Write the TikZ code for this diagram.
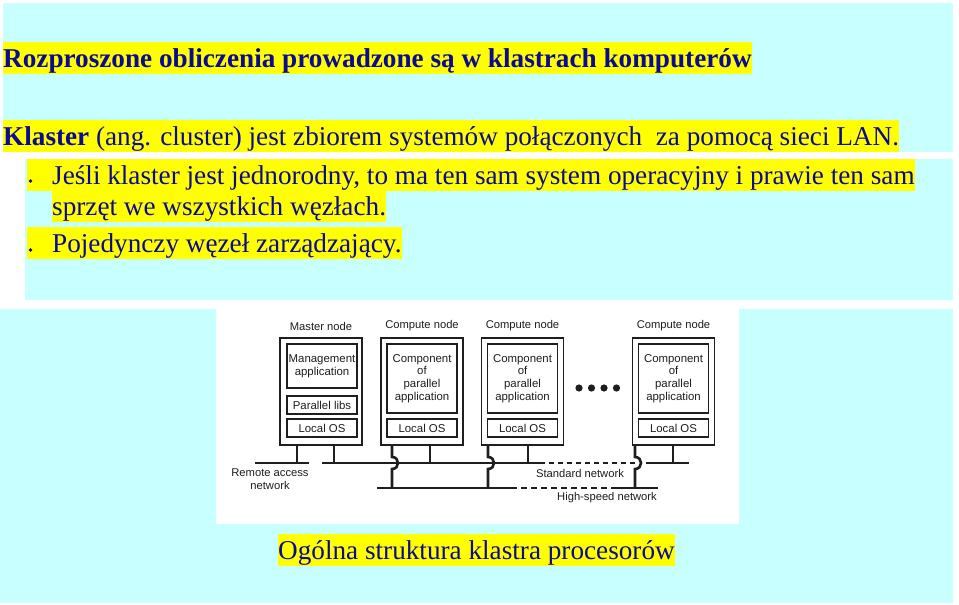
\documentclass[tikz,border=0pt]{standalone}
\usepackage{fontspec}
\setmainfont{Liberation Serif}
\newfontfamily\arialf{Liberation Sans}
\definecolor{cyanbg}{HTML}{C8FFFF}
\definecolor{navyt}{HTML}{0A0A96}
\definecolor{hl}{HTML}{FFFF00}
\definecolor{ink}{HTML}{1E1E1E}
\tikzset{
  hltext/.style={fill=hl, text=navyt, inner sep=0pt, anchor=base west,
    font=\fontsize{27.2}{32}\selectfont, text height=25pt, text depth=7pt},
  outerbox/.style={draw=ink, line width=1.8pt, minimum width=82pt, minimum height=107pt, inner sep=0pt},
  innerbox/.style={draw=ink, line width=1.1pt, minimum width=70pt, inner sep=0pt, align=center,
    font=\arialf\fontsize{11.4}{12.7}\selectfont, text=ink},
  dlabel/.style={font=\arialf\fontsize{11.2}{12.7}\selectfont, text=ink, align=center, inner sep=0pt},
  net/.style={draw=ink, line width=2.6pt},
  netdots/.style={draw=ink, line width=2.6pt, dash pattern=on 5pt off 4pt},
  netdash/.style={draw=ink, line width=2.6pt, dash pattern=on 6pt off 4pt},
}
\begin{document}
\begin{tikzpicture}[x=1pt,y=-1pt]
\useasboundingbox (0,0) rectangle (959,605);
\fill[white] (0,0) rectangle (959,605);
% panels
\fill[cyanbg] (3,3) rectangle (953,152);
\fill[cyanbg] (25,159) rectangle (953,300);
\fill[cyanbg] (0,309) rectangle (953,603);
\fill[white] (216,309) rectangle (739,524);

% texts
\node[hltext, font=\bfseries\fontsize{27.2}{32}\selectfont] (title) at (3,67)
  {Rozproszone obliczenia prowadzone są w klastrach komputerów};
\node[hltext] (def) at (3,145)
  {\textbf{Klaster} (ang. cluster) jest zbiorem systemów połączonych\ \ za pomocą sieci LAN.};
\node[hltext] (b1) at (27,184)
  {\makebox[25pt]{}Jeśli klaster jest jednorodny, to ma ten sam system operacyjny i prawie ten sam};
\node[hltext] (b1b) at (52,215) {sprzęt we wszystkich węzłach.};
\node[hltext] (b2) at (27,252) {\makebox[25pt]{}Pojedynczy węzeł zarządzający.};
\fill[navyt] (30.5,181) circle (1.8);
\fill[navyt] (30.5,250) circle (1.8);
\node[hltext] (cap) at (278,559) {Ogólna struktura klastra procesorów};

% diagram boxes
\node[outerbox] (m) at (321,391.5) {};
\node[outerbox] (c1) at (422,391.5) {};
\node[outerbox] (c2) at (522.5,391.5) {};
\node[outerbox] (c3) at (673.5,391.5) {};

\node[dlabel] (lm) at (321,326) {Master node};
\node[dlabel] (l1) at (422,326) {Compute node};
\node[dlabel] (l2) at (522.5,326) {Compute node};
\node[dlabel] (l3) at (673.5,326) {Compute node};

\node[innerbox, minimum height=44pt] (mapp) at (322,366) {Management\\application};
\node[innerbox, minimum height=18pt] (mlib) at (322,405) {Parallel libs};
\node[innerbox, minimum height=18pt] (mos) at (322,428) {Local OS};

\node[innerbox, minimum height=69pt] (a1) at (422,378.5) {Component\\of\\parallel\\application};
\node[innerbox, minimum height=18pt] (o1) at (422,428) {Local OS};
\node[innerbox, minimum height=69pt] (a2) at (522.5,378.5) {Component\\of\\parallel\\application};
\node[innerbox, minimum height=18pt] (o2) at (522.5,428) {Local OS};
\node[innerbox, minimum height=69pt] (a3) at (673.5,378.5) {Component\\of\\parallel\\application};
\node[innerbox, minimum height=18pt] (o3) at (673.5,428) {Local OS};

% dots
\foreach \xx in {579,591.5,604,616.5} \fill[ink] (\xx,388) circle (3.6);

% networks
\coordinate (ra1) at (255,463); \coordinate (ra2) at (309,463);
\coordinate (sn1) at (322,463); \coordinate (sn2) at (540,463);
\coordinate (sn3) at (636,463); \coordinate (sn4) at (646,463); \coordinate (sn5) at (689,463);
\coordinate (hs1) at (377,488); \coordinate (hs2) at (511,488);
\coordinate (hs3) at (611,488); \coordinate (hs4) at (658,488);
\draw[net] (ra1) -- (ra2);
\draw[net] (sn1) -- (sn2);
\draw[netdots] (sn2) -- (sn3);
\draw[net] (sn4) -- (sn5);
\draw[net] (hs1) -- (hs2);
\draw[netdash] (hs2) -- (hs3);
\draw[net] (hs3) -- (hs4);

% legs to standard / remote access network
\coordinate (lg0) at (297,463);
\coordinate (lg1) at (334,463);
\coordinate (lg2) at (430,463);
\coordinate (lg3) at (528,463);
\coordinate (lg4) at (673,463);
\draw[net] (m.south -| lg0) -- (lg0);
\draw[net] (m.south -| lg1) -- (lg1);
\draw[net] (c1.south -| lg2) -- (lg2);
\draw[net] (c2.south -| lg3) -- (lg3);
\draw[net] (c3.south -| lg4) -- (lg4);

% legs to high-speed network with jumpers
\coordinate (h1) at (392,488);
\coordinate (h2) at (488,488);
\coordinate (h3) at (635,488);
\draw[net] (c1.south -| h1) -- (392,457) .. controls (400,457) and (400,469) .. (392,469) -- (h1);
\draw[net] (c2.south -| h2) -- (488,457) .. controls (496,457) and (496,469) .. (488,469) -- (h2);
\draw[net] (c3.south -| h3) -- (635,457) .. controls (643,457) and (643,469) .. (635,469) -- (h3);

% network labels
\node[dlabel] (lra) at (270,479) {Remote access\\network};
\node[dlabel] (lsn) at (580,473) {Standard network};
\node[dlabel] (lhs) at (607,498) {High-speed network};
\end{tikzpicture}
\end{document}
